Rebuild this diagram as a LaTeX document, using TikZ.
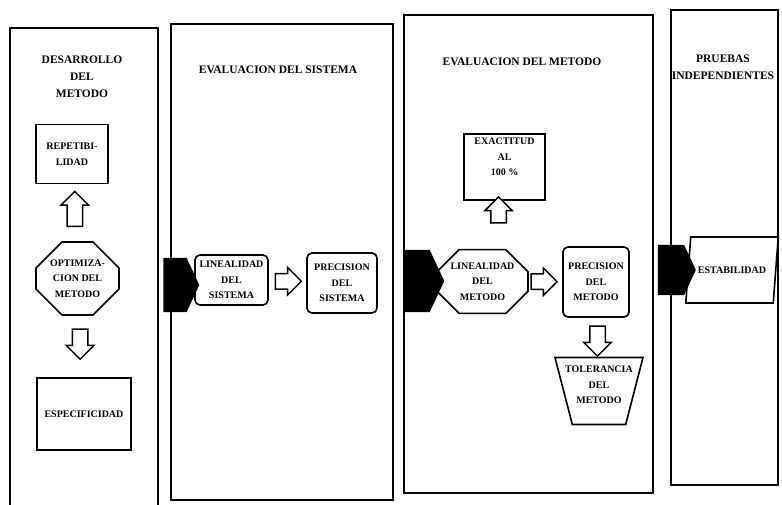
\documentclass[tikz,border=0pt]{standalone}
\usepackage{fontspec}
\setmainfont{Liberation Serif}
\usetikzlibrary{calc,shapes.geometric,shapes.misc,shapes.arrows,shapes.symbols}

\tikzset{
    panelframe/.style={line width=1.8pt},
    heading/.style={font=\bfseries\fontsize{11.5}{17}\selectfont,align=center},
    stepbox/.style={draw,line width=1.6pt,font=\bfseries\fontsize{10}{15.5}\selectfont,align=center,inner sep=2pt},
    roundbox/.style={stepbox,rounded corners=5pt},
    octbox/.style={stepbox,chamfered rectangle},
    hollowarrow/.style={draw,fill=white,line width=1.5pt,single arrow,single arrow head extend=6pt,inner sep=7pt,minimum width=27pt},
    blackarrow/.style={signal,signal to=east,fill=black,signal pointer angle=130,inner sep=0pt}
}

\begin{document}
\begin{tikzpicture}[x=1pt,y=-1pt]
    \useasboundingbox (0,0) rectangle (782,505);
    \begin{scope}
        \draw[panelframe] (10,520) -- (10,28) -- (158,28) -- (158,520);
        \node[heading] (titledes) at (82,77) {DESARROLLO\\DEL\\METODO};
        \node[stepbox,minimum width=72pt,minimum height=59pt] (repet) at (72,154) {REPETIBI-\\LIDAD};
        \node[octbox,chamfered rectangle xsep=12pt,chamfered rectangle ysep=14pt,minimum width=79pt,minimum height=73pt] (optim) at (77.5,278.5) {OPTIMIZA-\\CION DEL\\METODO};
        \node[stepbox,minimum width=94pt,minimum height=72pt] (espec) at (84,414) {ESPECIFICIDAD};
        \node[hollowarrow,minimum height=35pt,shape border rotate=90] (uprep) at ($(optim.north)!0.5!(repet.south)$) {};
        \node[hollowarrow,minimum height=30pt,shape border rotate=270] (downesp) at ($(optim.south)!0.4!(espec.north)$) {};
    \end{scope}
    \begin{scope}
        \draw[panelframe] (171,24) rectangle (393,500);
        \node[heading] (titlesis) at (278,70) {EVALUACION DEL SISTEMA};
        \node[roundbox,minimum width=73pt,minimum height=50pt] (linsis) at (231.5,280) {LINEALIDAD\\DEL\\SISTEMA};
        \node[roundbox,minimum width=70pt,minimum height=60pt] (presis) at (342,283) {PRECISION\\DEL\\SISTEMA};
        \node[hollowarrow,minimum height=26pt] (rightsis) at ($(linsis.east)!0.42!(presis.west)$) {};
    \end{scope}
    \begin{scope}
        \draw[panelframe] (404,15) rectangle (653,493);
        \node[heading] (titlemet) at (522,62) {EVALUACION DEL METODO};
        \node[stepbox,minimum width=81pt,minimum height=66pt] (exact) at (504.5,167) {};
        \node[stepbox,draw=none,anchor=north] (exacttext) at ($(exact.north)+(0,2)$) {EXACTITUD\\AL\\100 \%};
        \node[octbox,chamfered rectangle xsep=11pt,chamfered rectangle ysep=11pt,minimum width=91pt,minimum height=61pt] (linmet) at (482.5,281.5) {LINEALIDAD\\DEL\\METODO};
        \node[roundbox,minimum width=66pt,minimum height=70pt] (premet) at (596,282) {PRECISION\\DEL\\METODO};
        \node[stepbox,trapezium,trapezium stretches=true,shape border rotate=180,trapezium left angle=72,trapezium right angle=72,minimum width=88pt,minimum height=67pt] (tolmet) at (599,391) {};
        \node[stepbox,draw=none] (toltext) at ($(tolmet.center)+(0,-6)$) {TOLERANCIA\\DEL\\METODO};
        \node[hollowarrow,minimum height=26pt,shape border rotate=90] (upexact) at ($(linmet.north)!0.73!(exact.south)$) {};
        \node[hollowarrow,minimum height=26pt] (rightmet) at ($(linmet.east)!0.34!(premet.west)$) {};
        \node[hollowarrow,minimum height=30pt,shape border rotate=270] (downtol) at ($(premet.south)!0.5!(tolmet.north)$) {};
    \end{scope}
    \begin{scope}
        \draw[panelframe] (671,10) rectangle (778,485);
        \node[heading] (titlepru) at (723,67) {PRUEBAS\\INDEPENDIENTES};
        \node[stepbox,trapezium,trapezium stretches=true,trapezium left angle=68,trapezium right angle=112,minimum width=93pt,minimum height=66pt] (estab) at (732,270) {ESTABILIDAD};
    \end{scope}
    \node[blackarrow,minimum width=36pt,minimum height=54pt] (jumpsis) at (175,285) {};
    \node[blackarrow,minimum width=40pt,minimum height=62pt] (jumpmet) at (417,281) {};
    \node[blackarrow,minimum width=38pt,minimum height=50pt] (jumppru) at (671,270) {};
\end{tikzpicture}
\end{document}
